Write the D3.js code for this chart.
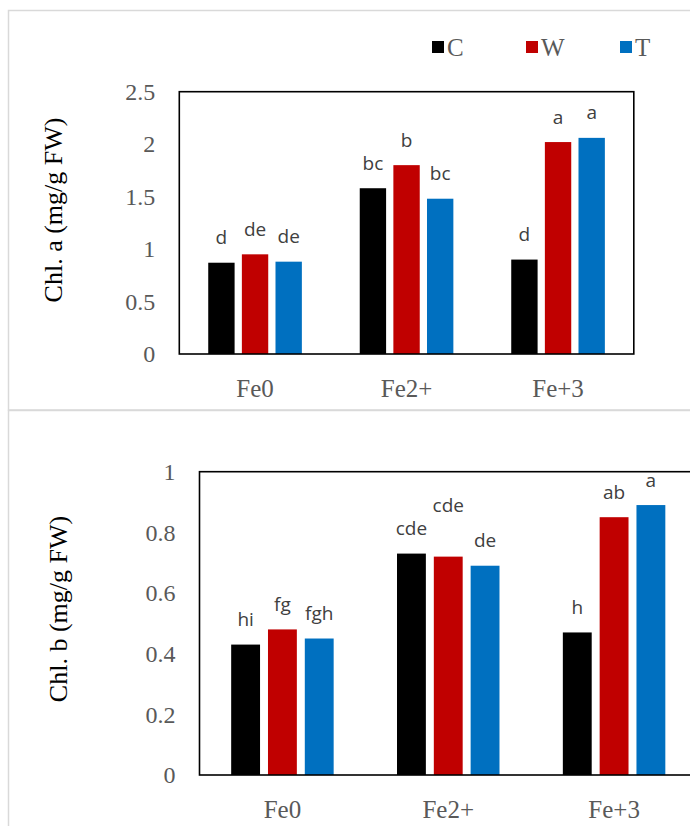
<!DOCTYPE html>
<html>
<head>
<meta charset="utf-8">
<script src="https://cdn.jsdelivr.net/npm/d3@7"></script>
<style>
  body { margin: 0; background: #fff; }
  svg { display: block; }
</style>
</head>
<body>
<div id="chart"></div>
<script>
// categories and series
const categories = ["Fe0", "Fe2+", "Fe+3"];
const seriesNames = ["C", "W", "T"];
const seriesColors = ["#000000", "#C00000", "#0070C0"];

// Chl. a values (mg/g FW), one array per series
const chlA_C = [0.87, 1.58, 0.90];
const chlA_W = [0.95, 1.80, 2.02];
const chlA_T = [0.88, 1.48, 2.06];
const chlA_letters_C = ["d", "bc", "d"];
const chlA_letters_W = ["de", "b", "a"];
const chlA_letters_T = ["de", "bc", "a"];
const chlA_ticks = [0, 0.5, 1, 1.5, 2, 2.5];

// Chl. b values (mg/g FW)
const chlB_C = [0.43, 0.73, 0.47];
const chlB_W = [0.48, 0.72, 0.85];
const chlB_T = [0.45, 0.69, 0.89];
const chlB_letters_C = ["hi", "cde", "h"];
const chlB_letters_W = ["fg", "cde", "ab"];
const chlB_letters_T = ["fgh", "de", "a"];
const chlB_ticks = [0, 0.2, 0.4, 0.6, 0.8, 1];

const W = 690, H = 826;
const serif = "'Liberation Serif', 'Times New Roman', serif";
const sans = "'Open Sans', 'Noto Sans', sans-serif";

let svg = d3.select("#chart")
  .append("svg")
  .attr("width", W)
  .attr("height", H)
  .style("background-color", "#FFFFFF");

// outer chart frames
svg.append("rect")
  .attr("x", 8.5).attr("y", 10.5).attr("width", 700).attr("height", 399.5)
  .attr("fill", "none").attr("stroke", "#d9d9d9").attr("stroke-width", 1.5);
svg.append("rect")
  .attr("x", 8.5).attr("y", 410.5).attr("width", 700).attr("height", 440)
  .attr("fill", "none").attr("stroke", "#d9d9d9").attr("stroke-width", 1.5);

function drawPanel(p) {
  let x = d3.scaleBand().domain(categories).range([p.left, p.right]);
  let groupW = x.bandwidth() * 0.618;
  let x1 = d3.scaleBand().domain(seriesNames)
    .range([-groupW / 2, groupW / 2]).paddingInner(0.216);
  let y = d3.scaleLinear().domain([0, p.max]).range([p.bottom, p.top]);

  let g = svg.append("g");

  // y axis tick labels
  let yAxis = g.append("g")
    .attr("transform", "translate(" + p.left + ",0)")
    .call(d3.axisLeft(y).tickValues(p.ticks).tickSize(0).tickPadding(24)
      .tickFormat(d3.format("~g")));
  yAxis.select(".domain").remove();
  yAxis.attr("font-family", serif);
  yAxis.selectAll("text")
    .style("font-family", serif)
    .style("font-size", "24px")
    .attr("fill", "#595959");

  // x axis labels
  let xAxis = g.append("g")
    .attr("transform", "translate(0," + p.bottom + ")")
    .call(d3.axisBottom(x).tickSize(0).tickPadding(0));
  xAxis.select(".domain").remove();
  xAxis.attr("font-family", serif);
  xAxis.selectAll("text")
    .attr("dy", null)
    .attr("y", 43)
    .style("font-family", serif)
    .style("font-size", "25px")
    .attr("fill", "#595959");

  // bars
  let rows = [];
  seriesNames.forEach(function(s, si) {
    categories.forEach(function(c, ci) {
      rows.push({cat: c, series: s, si: si, value: p.values[si][ci], letter: p.letters[si][ci]});
    });
  });

  g.selectAll(".bar")
    .data(rows)
    .enter().append("rect")
    .attr("class", "bar")
    .attr("x", function(d) { return x(d.cat) + x.bandwidth() / 2 + x1(d.series); })
    .attr("width", x1.bandwidth())
    .attr("y", function(d) { return y(d.value); })
    .attr("height", function(d) { return p.bottom - y(d.value); })
    .attr("fill", function(d) { return seriesColors[d.si]; });

  // significance letters
  g.selectAll(".lbl")
    .data(rows)
    .enter().append("text")
    .attr("class", "lbl")
    .attr("x", function(d) { return x(d.cat) + x.bandwidth() / 2 + x1(d.series) + x1.bandwidth() / 2; })
    .attr("y", function(d) {
      let lift = (p.nudge && p.nudge[d.cat + "|" + d.series]) || 0;
      return y(d.value) - 18.5 - lift;
    })
    .attr("text-anchor", "middle")
    .style("font-family", sans)
    .style("font-size", "19px")
    .attr("fill", "#404040")
    .text(function(d) { return d.letter; });

  // plot frame
  g.append("rect")
    .attr("x", p.left).attr("y", p.top)
    .attr("width", p.right - p.left).attr("height", p.bottom - p.top)
    .attr("fill", "none").attr("stroke", "#000").attr("stroke-width", 1.6);

  // y title
  g.append("text")
    .attr("transform", "translate(" + p.titleX + "," + p.titleY + ") rotate(-90)")
    .attr("text-anchor", "middle")
    .style("font-family", serif)
    .style("font-size", "26px")
    .attr("fill", "#000")
    .text(p.title);
}

drawPanel({
  left: 179.3, right: 633.8, top: 91.7, bottom: 354,
  max: 2.5, ticks: chlA_ticks,
  values: [chlA_C, chlA_W, chlA_T],
  letters: [chlA_letters_C, chlA_letters_W, chlA_letters_T],
  title: "Chl. a (mg/g FW)", titleX: 62, titleY: 210
});

drawPanel({
  left: 199.5, right: 697, top: 471.7, bottom: 775,
  max: 1, ticks: chlB_ticks,
  values: [chlB_C, chlB_W, chlB_T],
  letters: [chlB_letters_C, chlB_letters_W, chlB_letters_T],
  nudge: {"Fe2+|W": 26},
  title: "Chl. b (mg/g FW)", titleX: 67, titleY: 609
});

// legend
let legend = svg.selectAll(".legend")
  .data(seriesNames)
  .enter().append("g")
  .attr("class", "legend")
  .attr("transform", function(d, i) { return "translate(" + (432 + i * 94) + ",41)"; });

legend.append("rect")
  .attr("width", 12)
  .attr("height", 12)
  .attr("fill", function(d, i) { return seriesColors[i]; });

legend.append("text")
  .attr("x", 15)
  .attr("y", 15)
  .style("font-family", serif)
  .style("font-size", "25px")
  .attr("fill", "#595959")
  .text(function(d) { return d; });
</script>
</body>
</html>
